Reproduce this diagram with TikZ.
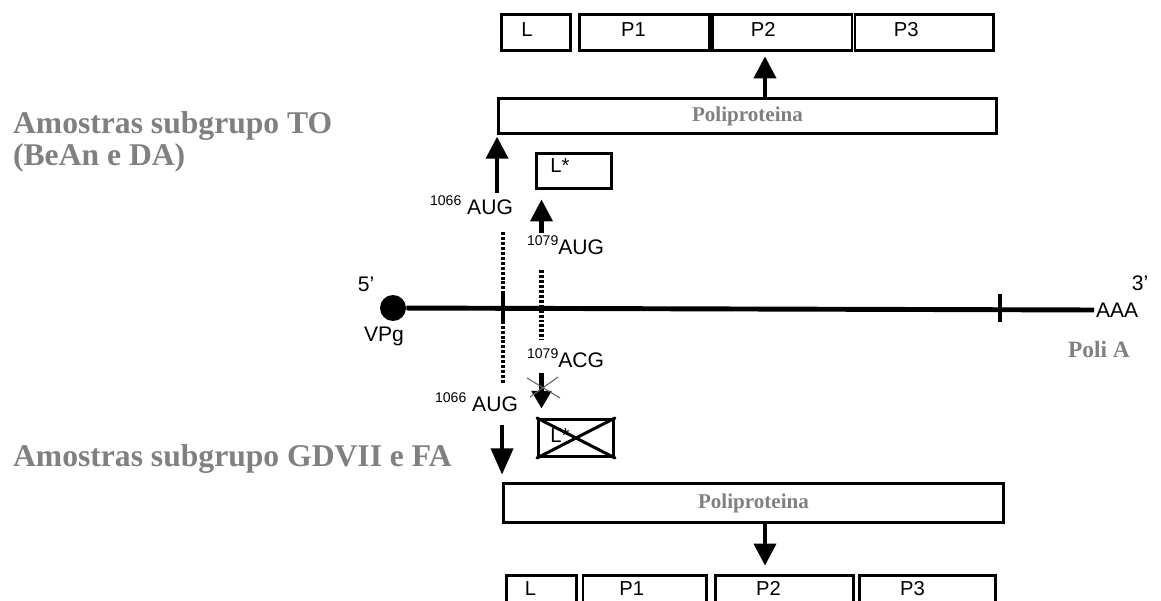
\documentclass[tikz,border=0pt]{standalone}
\usepackage{fontspec}
\setmainfont{Liberation Serif}
\setsansfont{Liberation Sans}
\usetikzlibrary{arrows.meta}
\definecolor{labelgray}{RGB}{128,128,128}
\definecolor{crossgray}{RGB}{100,100,100}
\newcommand{\seqsup}[1]{\raisebox{5.5pt}{\fontsize{8}{8}\selectfont #1}}
\tikzset{
   protbox/.style={draw,line width=1.7pt,inner sep=0pt},
   boxlab/.style={font=\sffamily\fontsize{11.5}{13}\selectfont,inner sep=0pt},
   seqlab/.style={font=\sffamily\fontsize{12}{14}\selectfont,inner sep=1pt},
   graylab/.style={text=labelgray,inner sep=1pt,font=\bfseries\fontsize{#1}{#1}\selectfont},
   graylab/.default=12,
   bigarrow/.style={line width=2.3pt,-{Triangle[width=12.5pt,length=12.5pt]}},
   dotline/.style={line width=2.8pt,dash pattern=on 1.7pt off 1.1pt},
   crossline/.style={line width=0.6pt,crossgray}
}
\begin{document}
\begin{tikzpicture}[x=0.02cm,y=-0.02cm]
   \clip (0,0) rectangle (1161,601);
   \foreach \n/\xl/\xr/\lab/\s in
     { tL/501.5/570.5/L/-9,
       tP1/579.5/709.5/P1/-11,
       tP2/712.5/852/P2/-19,
       tP3/855/993.5/P3/-18
     }
     {
     \node[protbox,minimum width={(\xr-\xl)*0.02cm},minimum height=0.72cm] (\n) at ({(\xl+\xr)/2},32.5) {};
     \node[boxlab,anchor=base] (\n-lab) at ({(\xl+\xr)/2+\s},37) {\lab};
     }
   \foreach \n/\xl/\xr/\lab/\s in
     { bL/506.5/576.5/L/-11,
       bP1/583/706.5/P1/-13,
       bP2/715.5/853.5/P2/-16,
       bP3/859.5/995.5/P3/-15
     }
     {
     \node[protbox,minimum width={(\xr-\xl)*0.02cm},minimum height=0.58cm] (\n) at ({(\xl+\xr)/2},590) {};
     \node[boxlab,anchor=base] (\n-lab) at ({(\xl+\xr)/2+\s},596) {\lab};
     }

   \node[protbox,graylab,minimum width=9.96cm,minimum height=0.7cm] (tpoly) at (747.5,116) {Poliproteina};
   \node[protbox,graylab,minimum width=10cm,minimum height=0.78cm] (bpoly) at (753.5,503) {Poliproteina};
   \node[protbox,minimum width=1.5cm,minimum height=0.7cm] (lstar) at (574,171) {};
   \node[boxlab,anchor=base] (lstar-lab) at (560,173) {L*};
   \node[protbox,minimum width=1.5cm,minimum height=0.74cm] (lx) at (576,438) {};
   \node[boxlab,anchor=base] (lx-lab) at (560,443) {L*};
   \draw[line width=1.7pt,line cap=round] (lx.north west) -- (lx.south east)
                                          (lx.north east) -- (lx.south west);

   \node[circle,fill,inner sep=0pt,minimum size=0.52cm] (vpg) at (393,308) {};
   \node[seqlab,anchor=west] (aaa) at (1094,310) {AAA};
   \draw[line width=2.8pt] (vpg) -- (aaa.west);
   \foreach \x in {503,1000}
     \draw[line width=2.3pt] (\x,294) -- (\x,322);
   \node[seqlab] (five) at (366,284) {5’};
   \node[seqlab] (vpglab) at (384,336) {VPg};
   \node[seqlab] (three) at (1140,283) {3’};
   \node[graylab=13.3] (polia) at (1099,350) {Poli A};

   \node[seqlab,anchor=base west] (aug1) at (428,215) {\seqsup{1066} AUG};
   \node[seqlab,anchor=base west] (aug2) at (525,255) {\seqsup{1079}AUG};
   \node[seqlab,anchor=base west] (acg) at (525,368) {\seqsup{1079}ACG};
   \node[seqlab,anchor=base west] (aug3) at (433,412) {\seqsup{1066} AUG};

   \node[graylab=18,anchor=base west] (to1) at (11,134) {Amostras subgrupo TO};
   \node[graylab=18,anchor=base west] (to2) at (11,166) {(BeAn e DA)};
   \node[graylab=18,anchor=base west] (gd) at (11,467) {Amostras subgrupo GDVII e FA};

   \coordinate (mid) at (765,0);
   \coordinate (m1066) at (503,0);
   \coordinate (m1079) at (541.5,0);
   \coordinate (nox) at (543,388);

   \draw[bigarrow,shorten >=2.5pt] (tpoly.north -| mid) -- (tP2.south -| mid);
   \draw[bigarrow,shorten >=1pt] (tpoly.south west |- aug1.north) -- (tpoly.south west);
   \draw[bigarrow,shorten >=5.4pt] (aug2.north -| m1079) -- (lstar.south -| m1079);
   \draw[dotline,shorten <=8.5pt,shorten >=3.4pt] (aug1.south -| m1066) -- (aug3.north -| m1066);
   \draw[dotline,shorten <=7.4pt,shorten >=4pt] (aug2.south -| m1079) -- (acg.north -| m1079);
   \draw[bigarrow,-{Triangle[width=11pt,length=10pt]},shorten <=1.5pt,shorten >=5.4pt]
     (acg.south -| m1079) -- (lx.north -| m1079);
   \draw[crossline] ([shift={(-16,-10)}]nox) -- ([shift={(17,10)}]nox)
                    ([shift={(-13,9)}]nox) -- ([shift={(15,-11)}]nox);
   \draw[bigarrow,-{Triangle[width=12.5pt,length=15pt]},shorten <=6.2pt,shorten >=4.2pt]
     (aug3.south -| bpoly.north west) -- (bpoly.north west);
   \draw[bigarrow,shorten >=4.8pt] (bpoly.south -| mid) -- (bP2.north -| mid);
\end{tikzpicture}
\end{document}
